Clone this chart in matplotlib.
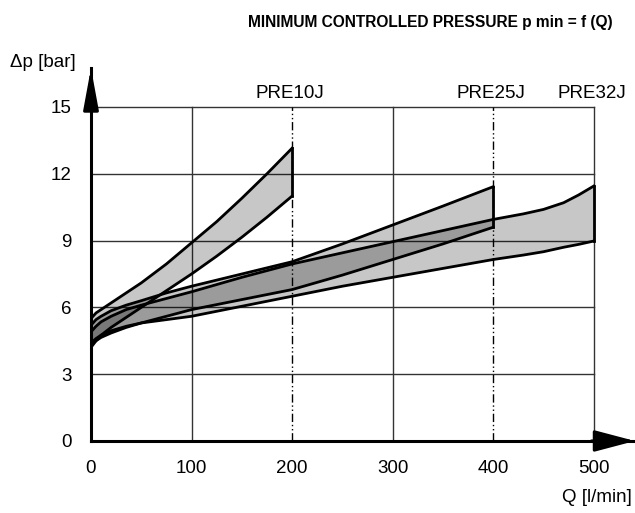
import numpy as np
import matplotlib.pyplot as plt

plt.rcParams['font.family'] = ['Liberation Sans', 'DejaVu Sans']

# flow Q [l/min] and pressure band limits [bar]
q_10 = [0, 5, 10, 20, 35, 50, 75, 100, 125, 150, 175, 200]
up_10 = [5.5, 5.75, 5.9, 6.2, 6.65, 7.1, 7.95, 8.9, 9.85, 10.9, 12.0, 13.15]
lo_10 = [4.2, 4.5, 4.75, 5.1, 5.55, 6.0, 6.75, 7.5, 8.3, 9.15, 10.05, 11.0]

q_25 = [0, 5, 10, 20, 35, 50, 75, 100, 150, 200, 250, 300, 350, 400]
up_25 = [5.2, 5.45, 5.6, 5.85, 6.1, 6.3, 6.65, 6.95, 7.5, 8.05, 8.85, 9.7, 10.55, 11.42]
lo_25 = [4.3, 4.5, 4.65, 4.85, 5.1, 5.3, 5.6, 5.9, 6.35, 6.8, 7.45, 8.15, 8.85, 9.6]

q_32 = [0, 5, 10, 20, 35, 50, 75, 100, 150, 200, 250, 300, 350, 400, 430, 450, 470, 485, 500]
up_32 = [4.9, 5.15, 5.35, 5.6, 5.9, 6.1, 6.4, 6.7, 7.35, 7.95, 8.45, 8.95, 9.45, 9.95,
         10.2, 10.4, 10.7, 11.05, 11.45]
lo_32 = [4.4, 4.6, 4.75, 4.95, 5.15, 5.3, 5.45, 5.6, 6.05, 6.5, 6.95, 7.35, 7.75, 8.15,
         8.35, 8.5, 8.7, 8.83, 8.98]

names = ['PRE10J', 'PRE25J', 'PRE32J']
q_max = [200, 400, 500]
x_ticks = [0, 100, 200, 300, 400, 500]
y_ticks = [0, 3, 6, 9, 12, 15]

fig = plt.figure(figsize=(6.35, 5.13), dpi=100)
ax = fig.add_axes([0.1433, 0.1404, 0.8567, 0.727])
ax.set_xlim(0, 541)
ax.set_ylim(0, 16.75)

# grid
for y in y_ticks[1:]:
    ax.plot([0, 500], [y, y], color='#333333', lw=1.0, zorder=1)
for x in [100, 300, 500]:
    ax.plot([x, x], [0, 15], color='#333333', lw=1.0, zorder=1)
for x in [200, 400]:
    ax.plot([x, x], [0, 15], color='k', lw=1.0, ls=(0, (6, 2, 1, 2, 1, 2)), zorder=1)

# bands, widest first so later ones lie on top
for q, up, lo in [(q_32, up_32, lo_32), (q_25, up_25, lo_25), (q_10, up_10, lo_10)]:
    ax.fill_between(q, lo, up, color='k', alpha=0.22, lw=0, zorder=2)
    ax.plot(q, up, color='k', lw=2.0, zorder=2, solid_joinstyle='round')
    ax.plot(q, lo, color='k', lw=2.0, zorder=2, solid_joinstyle='round')
    ax.plot([q[-1], q[-1]], [lo[-1], up[-1]], color='k', lw=2.0, zorder=2)
    ax.plot([0, 0], [lo[0], up[0]], color='k', lw=2.0, zorder=2)

for name, qm in zip(names, q_max):
    ax.text(qm - 2, 15.6, name, ha='center', va='center', fontsize=13.5)

ax.spines['top'].set_visible(False)
ax.spines['right'].set_visible(False)
ax.spines['left'].set_linewidth(2.2)
ax.spines['bottom'].set_linewidth(2.2)
ax.spines['left'].set_zorder(3)
ax.spines['bottom'].set_zorder(3)
ax.set_xticks(x_ticks)
ax.set_yticks(y_ticks)
ax.tick_params(axis='both', length=0, labelsize=13.5)
ax.tick_params(axis='x', pad=14)
ax.tick_params(axis='y', pad=14)

# axis arrows
ax.annotate('', xy=(1.0, 0), xytext=(0.92, 0), xycoords='axes fraction',
            arrowprops=dict(arrowstyle='-|>,head_length=1.25,head_width=0.33',
                            mutation_scale=20, color='k', lw=2.2, shrinkA=0, shrinkB=0),
            annotation_clip=False)
ax.annotate('', xy=(0, 1.0), xytext=(0, 0.9), xycoords='axes fraction',
            arrowprops=dict(arrowstyle='-|>,head_length=1.25,head_width=0.23',
                            mutation_scale=20, color='k', lw=2.2, shrinkA=0, shrinkB=0),
            annotation_clip=False)

fig.text(0.677, 0.957, 'MINIMUM CONTROLLED PRESSURE p min = f (Q)', ha='center', va='center',
         fontsize=11.2, fontweight='bold')
fig.text(0.016, 0.879, '\u0394p [bar]', ha='left', va='center', fontsize=13.5)
fig.text(0.995, 0.031, 'Q [l/min]', ha='right', va='center', fontsize=13.5)

fig.savefig('out.png', dpi=100)
